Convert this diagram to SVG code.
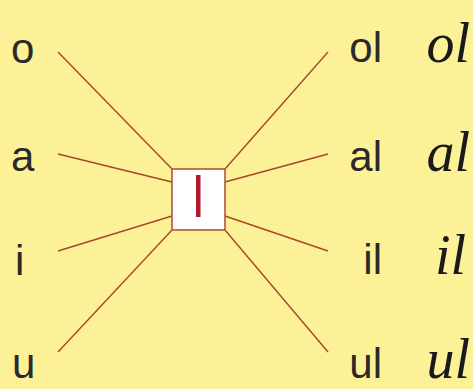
<svg xmlns="http://www.w3.org/2000/svg" width="473" height="389" viewBox="0 0 473 389">
<style>
.bg{fill:#fdf197}
.c line{stroke:#a8452c;stroke-width:1.4;fill:none}
.p{font-family:"Liberation Sans",Arial,sans-serif;font-size:42px;fill:#2a2a2a}
.cur{font-family:"Liberation Serif","DejaVu Serif",serif;font-style:italic;font-size:56px;fill:#1a1a1a}
.box{fill:#ffffff;stroke:#b5543c;stroke-width:1.6}
</style>
<rect class="bg" x="0" y="0" width="473" height="389"/>
<g id="connectors" class="c">
<line x1="58" y1="52" x2="172" y2="169"/>
<line x1="58" y1="154" x2="172" y2="182"/>
<line x1="58" y1="251" x2="172" y2="216"/>
<line x1="58" y1="352" x2="172" y2="230"/>
<line x1="225" y1="169" x2="328" y2="52"/>
<line x1="225" y1="182" x2="328" y2="154"/>
<line x1="225" y1="216" x2="328" y2="251"/>
<line x1="225" y1="230" x2="328" y2="352"/>
</g>
<g id="center">
<rect class="box" x="172" y="169" width="53" height="61"/>
<rect x="196" y="175" width="4.5" height="42" fill="#b0182e"/>
</g>
<g id="left-o"><text class="p" x="11" y="63">o</text></g>
<g id="left-a"><text class="p" x="11" y="171">a</text></g>
<g id="left-i"><text class="p" x="15" y="275">i</text></g>
<g id="left-u"><text class="p" x="12" y="378">u</text></g>
<g id="right-ol"><text class="p" x="382" y="62" text-anchor="end">ol</text><text class="cur" x="470" y="62" text-anchor="end">ol</text></g>
<g id="right-al"><text class="p" x="382" y="171" text-anchor="end">al</text><text class="cur" x="470" y="171" text-anchor="end">al</text></g>
<g id="right-il"><text class="p" x="382" y="274" text-anchor="end">il</text><text class="cur" x="466" y="274" text-anchor="end">il</text></g>
<g id="right-ul"><text class="p" x="382" y="378" text-anchor="end">ul</text><text class="cur" x="470" y="378" text-anchor="end">ul</text></g>
</svg>
